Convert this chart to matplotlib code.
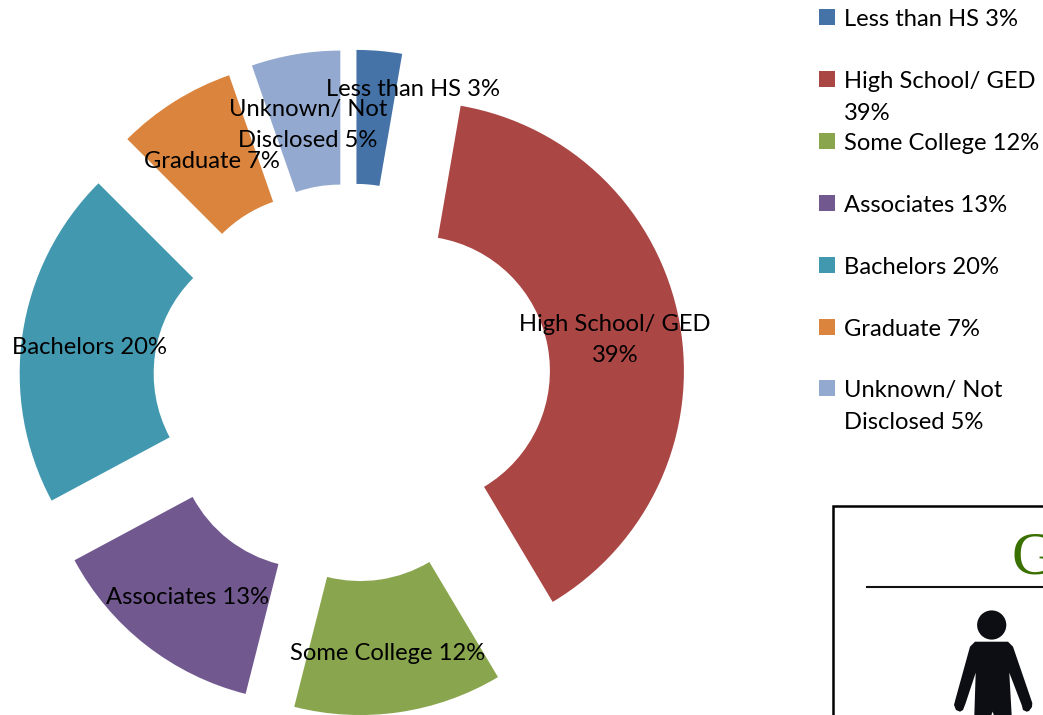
import matplotlib
matplotlib.use("Agg")
import matplotlib.pyplot as plt
from matplotlib.patches import Rectangle, Polygon, Circle

categories = ["Less than HS 3%", "High School/ GED\n39%", "Some College 12%", "Associates 13%",
              "Bachelors 20%", "Graduate 7%", "Unknown/ Not\nDisclosed 5%"]
shares = [2.72, 38.72, 12.5, 13.22, 20.33, 7.17, 5.33]
colors = ["#4572A7", "#AA4643", "#89A54E", "#71588F", "#4198AF", "#DB843D", "#93A9CF"]
label_xy = [(413, 89), (615, 340), (388, 653), (188, 598), (89, 347), (212, 162), (308, 125)]
legend_y = [17, 79, 141, 203, 265, 327, 388]

W, H = 1043, 715
FONT = "Lato"
FS = 17.1
LS = 1.62


def Y(y):
    return H - y


fig = plt.figure(figsize=(W / 100, H / 100), dpi=100)
ax = fig.add_axes([0, 0, 1, 1])
CX, CY, R, RIN = 351, 382.7, 269, 135
offsets = [64, 65, 64, 64, 63, 63, 64]

ax.pie(shares, colors=colors, startangle=90, counterclock=False,
       center=(CX, Y(CY)), radius=R, explode=offsets,
       wedgeprops=dict(width=R - RIN, linewidth=0))
ax.set_xlim(0, W)
ax.set_ylim(0, H)
ax.set_aspect("equal")
ax.axis("off")

# data labels
for label, (x, y) in zip(categories, label_xy):
    ax.text(x, Y(y), label, ha="center", va="center", family=FONT, fontsize=FS,
            color="black", linespacing=LS, multialignment="center", zorder=5)

# legend
for label, c, y in zip(categories, colors, legend_y):
    ax.add_patch(Rectangle((819, Y(y + 8)), 16, 16, facecolor=c, edgecolor="none"))
    if "\n" in label:
        ax.text(844, Y(y - 7.5), label, ha="left", va="top", family=FONT, fontsize=FS,
                color="black", linespacing=LS, zorder=5)
    else:
        ax.text(844, Y(y), label, ha="left", va="center_baseline", family=FONT, fontsize=FS,
                color="black", zorder=5)

# inset picture frame
ax.add_patch(Rectangle((833.2, Y(730)), 300, 730 - 506.2, facecolor="white",
                       edgecolor="black", linewidth=1.8))
ax.plot([867, W], [Y(587), Y(587)], color="#111111", lw=1.5)
ax.text(1012, Y(573), "G", family="Liberation Serif", fontsize=44, color="#3A7000",
        ha="left", va="baseline")

# person icon
ink = "#0D0D14"
ax.add_patch(Circle((991.7, Y(625)), 14.6, facecolor=ink, edgecolor="none"))
body = [(975, 641.7), (1008, 641.7), (1013, 646.7), (1032.3, 703), (1032, 707), (1029, 711), (1026.7, 711.7),
        (1023, 710), (1021.7, 705), (1009.3, 672.7), (1011.7, 716), (994, 716), (992.7, 711.6), (991, 716),
        (974.3, 716), (975.7, 672.7), (965.7, 703), (963, 710), (960, 711.7), (956, 710), (954, 705),
        (955, 701), (970, 646.7)]
ax.add_patch(Polygon([(x, Y(y)) for x, y in body], closed=True, facecolor=ink, edgecolor="none"))

fig.savefig("out.png", dpi=100)
